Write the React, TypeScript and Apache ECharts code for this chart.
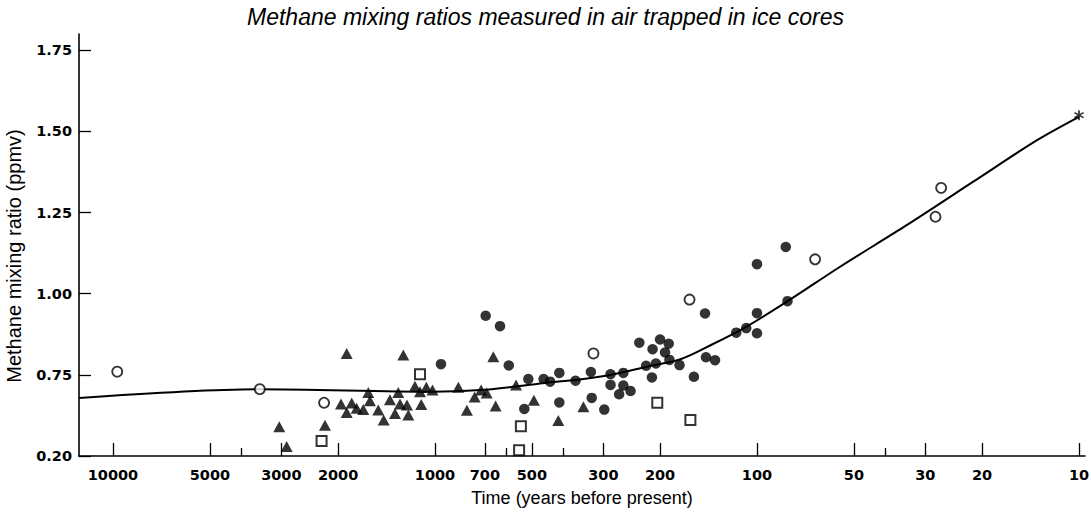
import { useEffect, useRef } from 'react';
import * as echarts from 'echarts';

// ---- axis ticks ----
const xLabelYears = [10000, 5000, 3000, 2000, 1000, 700, 500, 300, 200, 100, 50, 30, 20, 10];
const xMajorTickYears = [10000, 5000, 3000, 2000, 1000, 700, 500, 300, 200, 100, 50, 30, 20, 10];
const xMinorTickYears = [4000, 600, 400, 40];
const yTickValues = [0.5, 0.75, 1.0, 1.25, 1.5, 1.75];
const yTickLabels = ['0.20', '0.75', '1.00', '1.25', '1.50', '1.75'];

// ---- data (years before present, ppmv) ----
const dotYears = [958, 696, 628, 590, 528, 513, 460, 439, 411, 411, 366, 328, 326, 298, 285, 285, 260, 260, 268, 247, 232, 221, 206, 212, 211, 200, 188, 193, 187, 174, 157, 145, 144, 135, 116, 108, 100, 100, 100, 81.4, 80.4];
const dotValues = [0.783, 0.932, 0.9, 0.779, 0.645, 0.737, 0.737, 0.729, 0.756, 0.665, 0.732, 0.759, 0.679, 0.643, 0.752, 0.719, 0.756, 0.717, 0.69, 0.7, 0.849, 0.778, 0.785, 0.742, 0.829, 0.859, 0.846, 0.819, 0.796, 0.78, 0.744, 0.939, 0.804, 0.795, 0.88, 0.894, 0.94, 0.878, 1.091, 1.144, 0.977];

const openCircleYears = [9700, 3500, 2210, 322, 162, 66, 27.9, 26.8];
const openCircleValues = [0.76, 0.706, 0.664, 0.816, 0.982, 1.106, 1.237, 1.326];

const triYears = [3045, 2888, 2196, 1880, 1254, 659, 1958, 1814, 1880, 1751, 1670, 1611, 1592, 1500, 1443, 1380, 1300, 1284, 1331, 1222, 1210, 1154, 1113, 1103, 1064, 1018, 846, 796, 753, 719, 691, 648, 560, 493, 414, 346];
const triValues = [0.59, 0.529, 0.595, 0.816, 0.811, 0.806, 0.66, 0.663, 0.634, 0.647, 0.643, 0.696, 0.67, 0.642, 0.611, 0.673, 0.696, 0.66, 0.631, 0.657, 0.626, 0.715, 0.698, 0.659, 0.712, 0.703, 0.712, 0.641, 0.682, 0.703, 0.694, 0.654, 0.719, 0.672, 0.609, 0.652];

const squareYears = [2250, 1113, 541, 548, 204, 161];
const squareValues = [0.546, 0.752, 0.592, 0.518, 0.664, 0.611];

const starYears = [10];
const starValues = [1.55];

const curveYears = [12750, 3500, 1018, 725, 573, 450, 355, 279, 220, 173, 137, 108, 80.3, 55.2, 34.3, 21.3, 13.5, 10];
const curveValues = [0.679, 0.706, 0.698, 0.703, 0.713, 0.726, 0.736, 0.752, 0.775, 0.798, 0.845, 0.898, 0.977, 1.083, 1.211, 1.345, 1.473, 1.545];

const INK = '#000000';
const ASTERISK =
  'path://M4.2,0L5.8,0L5.8,10L4.2,10Z M8.93,8.19L0.27,3.19L1.07,1.81L9.73,6.81Z M9.73,3.19L1.07,8.19L0.27,6.81L8.93,1.81Z';

const pairs = (xs: number[], ys: number[]) => xs.map((x, i) => [x, ys[i]]);

export default function App() {
  const ref = useRef<HTMLDivElement>(null);

  useEffect(() => {
    if (!ref.current) return;
    const chart = echarts.init(ref.current, undefined, { renderer: 'svg' });
    const xMin = 9.58;
    const xMax = 12750;
    const tickFont = { color: INK, fontFamily: 'DejaVu Sans', fontWeight: 'bold' as const, fontSize: 14.5 };
    chart.setOption({
      animation: false,
      backgroundColor: '#ffffff',
      title: {
        text: 'Methane mixing ratios measured in air trapped in ice cores',
        left: 'center',
        top: 0,
        textStyle: { color: INK, fontStyle: 'italic', fontWeight: 'normal', fontSize: 23, fontFamily: 'Liberation Sans' },
      },
      grid: { left: 79, right: 6, top: 34, bottom: 57, containLabel: false, outerBoundsMode: 'none' },
      xAxis: [
        {
          type: 'log',
          logBase: 10,
          inverse: true,
          min: xMin,
          max: xMax,
          position: 'bottom',
          axisLine: { lineStyle: { color: INK, width: 1.6 } },
          axisTick: { inside: true, length: 13, customValues: xMajorTickYears, lineStyle: { color: INK, width: 1.3 } },
          axisLabel: {
            customValues: xLabelYears,
            formatter: (v: number) => String(Math.round(v)),
            margin: 11,
            hideOverlap: false,
            ...tickFont,
          },
          splitLine: { show: false },
          minorTick: { show: false },
          name: 'Time (years before present)',
          nameLocation: 'middle',
          nameGap: 33,
          nameTextStyle: { color: INK, fontSize: 18, fontFamily: 'Liberation Sans' },
        },
        {
          type: 'log',
          logBase: 10,
          inverse: true,
          min: xMin,
          max: xMax,
          position: 'bottom',
          axisLine: { show: false },
          axisTick: { inside: true, length: 8, customValues: xMinorTickYears, lineStyle: { color: INK, width: 1.3 } },
          axisLabel: { show: false },
          splitLine: { show: false },
        },
      ],
      yAxis: {
        type: 'value',
        min: 0.5,
        max: 1.8,
        axisLine: { show: true, lineStyle: { color: INK, width: 1.6 } },
        axisTick: { show: true, inside: true, length: 12, customValues: yTickValues, lineStyle: { color: INK, width: 1.3 } },
        axisLabel: {
          customValues: yTickValues,
          formatter: (v: number) => {
            const i = yTickValues.findIndex((t) => Math.abs(t - v) < 1e-6);
            return i >= 0 ? yTickLabels[i] : '';
          },
          margin: 7,
          ...tickFont,
        },
        splitLine: { show: false },
        name: 'Methane mixing ratio (ppmv)',
        nameLocation: 'middle',
        nameGap: 55,
        nameTextStyle: { color: INK, fontSize: 20, fontFamily: 'Liberation Sans', padding: [0, 22, 0, 0] },
      },
      series: [
        {
          type: 'line',
          name: 'fit',
          data: pairs(curveYears, curveValues),
          showSymbol: false,
          smooth: 0.3,
          lineStyle: { color: INK, width: 2 },
          z: 1,
        },
        {
          type: 'scatter',
          name: 'filled circles',
          data: pairs(dotYears, dotValues),
          symbol: 'circle',
          symbolSize: 10.5,
          itemStyle: { color: INK },
          z: 3,
        },
        {
          type: 'scatter',
          name: 'triangles',
          data: pairs(triYears, triValues),
          symbol: 'triangle',
          symbolSize: [12, 11],
          itemStyle: { color: INK },
          z: 3,
        },
        {
          type: 'scatter',
          name: 'open circles',
          data: pairs(openCircleYears, openCircleValues),
          symbol: 'circle',
          symbolSize: 10,
          itemStyle: { color: '#ffffff', borderColor: INK, borderWidth: 1.8 },
          z: 4,
        },
        {
          type: 'scatter',
          name: 'open squares',
          data: pairs(squareYears, squareValues),
          symbol: 'rect',
          symbolSize: 10,
          itemStyle: { color: '#ffffff', borderColor: INK, borderWidth: 2 },
          z: 4,
        },
        {
          type: 'scatter',
          name: 'present',
          data: pairs(starYears, starValues),
          symbol: ASTERISK,
          symbolSize: 10,
          itemStyle: { color: INK },
          z: 5,
        },
      ],
    });
    return () => chart.dispose();
  }, []);

  return (
    <div
      ref={ref}
      style={{ position: 'fixed', left: 0, top: 0, width: 1091, height: 513, background: '#fff' }}
    />
  );
}
